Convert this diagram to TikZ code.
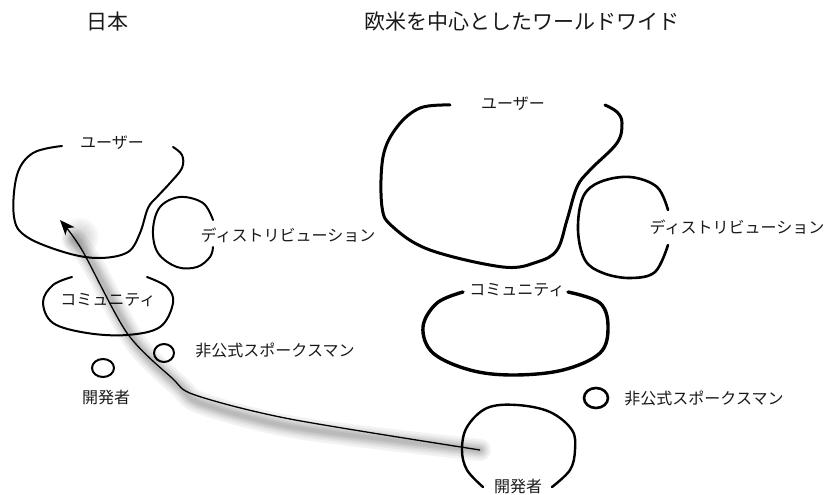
\documentclass[tikz,border=0pt]{standalone}
\usepackage{fontspec}
\newfontfamily\jp{Noto Sans CJK JP}
\usetikzlibrary{arrows.meta}
\begin{document}
\begin{tikzpicture}[x=1pt,y=-1pt,
  lbl/.style={font=\jp\fontsize{16}{16}\selectfont, inner sep=0pt, text=black!90},
  ttl/.style={font=\jp\fontsize{21}{21}\selectfont, inner sep=0pt, text=black!90},
  blob/.style={line width=2pt, line cap=round, line join=round},
  blobthick/.style={line width=3pt, line cap=round, line join=round},
  conn/.style={line width=1.3pt, -{Stealth[length=15pt,width=12pt,inset=4pt]}},
  shade/.style={draw=black, opacity=0.05, line cap=round}
]
\useasboundingbox (0,0) rectangle (833,495);

% titles
\node[ttl] (tJ) at (107,22) {日本};
\node[ttl] (tW) at (522,22) {欧米を中心としたワールドワイド};

% ---------- Japan ----------
\draw[blob] plot[smooth, tension=0.6] coordinates {(62,146) (33,153) (17,175) (14,217) (27,237) (67,253) (100,258) (128,252) (140,233) (148,208) (157,197) (170,183) (182,168) (182,155) (173,147)};
\node[lbl] (userJ) at (112,143) {ユーザー};

\draw[blob] plot[smooth, tension=0.6] coordinates {(213,220) (203,203) (180,197) (160,207) (153,230) (158,253) (177,267) (197,267) (210,257) (213,247)};
\node[lbl] (distJ) at (288,235) {ディストリビューション};

\draw[blob] plot[smooth, tension=0.6] coordinates {(72,277) (53,285) (43,302) (53,323) (87,333) (127,335) (160,327) (173,303) (167,287) (147,277)};
\node[lbl] (commJ) at (108,300) {コミュニティ};

\draw[blob] (164,353) ellipse [x radius=10, y radius=9];
\node[lbl] (spokJ) at (275,350) {非公式スポークスマン};

\draw[blob] (103,368) ellipse [x radius=11, y radius=9];
\node[lbl] (devJ) at (106,397) {開発者};

% ---------- World ----------
\draw[blobthick] plot[smooth, tension=0.6] coordinates {(450,105) (420,108) (397,127) (383,157) (382,207) (393,227) (430,250) (503,267) (537,262) (557,250) (567,220) (577,187) (590,170) (617,143) (622,123) (617,112) (605,105)};
\node[lbl] (userW) at (513,104) {ユーザー};

\draw[blobthick, line width=2.6pt] plot[smooth, tension=0.6] coordinates {(668,210) (657,187) (630,177) (600,182) (583,197) (578,230) (585,260) (603,273) (630,278) (655,272) (668,245)};
\node[lbl] (distW) at (737,227) {ディストリビューション};

\draw[blobthick, line width=3.4pt] plot[smooth, tension=0.6] coordinates {(463,292) (437,303) (423,327) (433,353) (470,370) (513,375) (563,370) (600,353) (608,327) (600,303) (568,292)};
\node[lbl] (commW) at (517,290) {コミュニティ};

\draw[blob, line width=2.6pt] (596,398) ellipse [x radius=12, y radius=10];
\node[lbl] (spokW) at (704,398) {非公式スポークスマン};

\draw[blob, line width=2.4pt] plot[smooth, tension=0.6] coordinates {(483,487) (467,470) (462,450) (467,427) (487,408) (517,405) (550,412) (572,430) (575,450) (570,470) (552,487)};
\node[lbl] (devW) at (518,486) {開発者};

% ---------- connector ----------
\coordinate (from) at (480,450);
\coordinate (to) at (60,220);
\begin{scope}[shift={(8,9)}]
  \foreach \w in {22,17,13,10,7,4}
    \draw[shade, line width=\w pt] plot[smooth, tension=0.5] coordinates {(from) (290,419) (195,395) (172,378) (127,333) (85,256) (66,230)};
  \foreach \w in {19,17,15,13,11,9,7,5}
    \fill[black, opacity=0.025] (72,228) circle (\w pt);
\end{scope}
\draw[conn] plot[smooth, tension=0.5] coordinates {(from) (290,419) (195,395) (172,378) (127,333) (82,250) (to)};
\end{tikzpicture}
\end{document}
